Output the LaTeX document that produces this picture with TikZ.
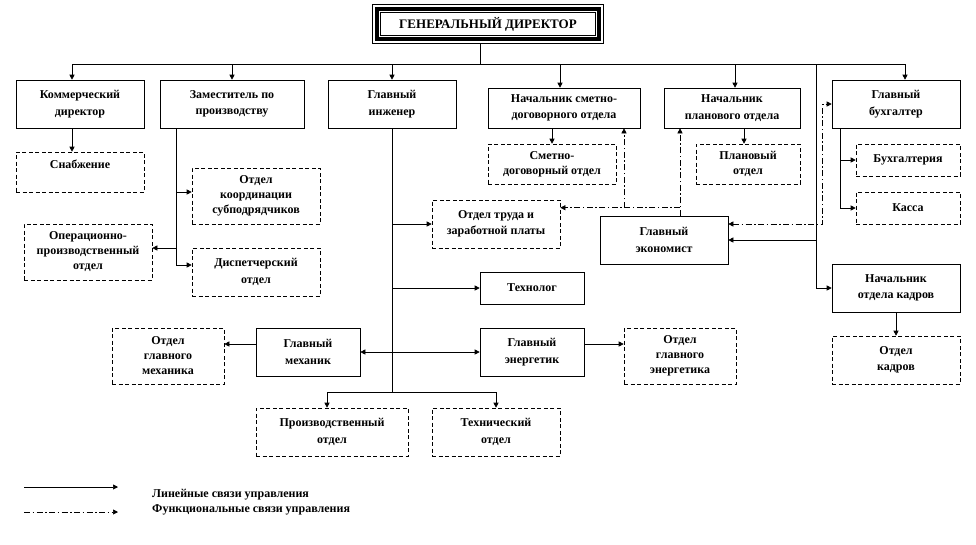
\documentclass[tikz,border=0pt]{standalone}
\usepackage{fontspec}
\setmainfont{Liberation Serif}
\usetikzlibrary{arrows.meta}
\begin{document}
\begin{tikzpicture}[x=1pt,y=-1pt,
  every node/.style={font=\fontsize{12}{16.5}\selectfont\bfseries, align=center, inner sep=0pt},
  three/.style={font=\fontsize{12}{15}\selectfont\bfseries},
  mgr/.style n args={2}{draw, line width=0.6pt, minimum width=#1pt, minimum height=#2pt},
  dept/.style n args={2}{draw, line width=0.6pt, dash pattern=on 4pt off 2.5pt, minimum width=#1pt, minimum height=#2pt},
  ln/.style={line width=0.6pt},
  lin/.style={line width=0.6pt, -{Triangle[length=5pt,width=5pt]}},
  fun/.style={line width=0.6pt, dash pattern=on 6pt off 2.5pt on 1.5pt off 2.5pt, -{Triangle[length=5pt,width=5pt]}},
  funboth/.style={line width=0.6pt, dash pattern=on 6pt off 2.5pt on 1.5pt off 2.5pt, {Triangle[length=5pt,width=5pt]}-{Triangle[length=5pt,width=5pt]}},
  linboth/.style={line width=0.6pt, {Triangle[length=5pt,width=5pt]}-{Triangle[length=5pt,width=5pt]}},
  leg/.style={font=\fontsize{12}{14}\selectfont\bfseries, anchor=base west}
]
\useasboundingbox (0,0) rectangle (976,544);

% general director with double frame
\node[minimum width=230pt, minimum height=38pt, font=\fontsize{13}{15}\selectfont\bfseries] (gd) at (488,24) {ГЕНЕРАЛЬНЫЙ ДИРЕКТОР};
\draw[line width=0.8pt] (gd.north west) rectangle (gd.south east);
\draw[line width=3.5pt] ([xshift=4pt,yshift=-4pt]gd.north west) rectangle ([xshift=-4pt,yshift=4pt]gd.south east);
\draw[line width=0.8pt] ([xshift=8pt,yshift=-8pt]gd.north west) rectangle ([xshift=-8pt,yshift=8pt]gd.south east);

% first row
\node[mgr={128}{48}] (kd) at (80,104) {Коммерческий\\директор};
\node[mgr={144}{48}] (zam) at (232,104) {Заместитель по\\производству};
\node[mgr={128}{48}] (gi) at (392,104) {Главный\\инженер};
\node[mgr={152}{40}] (nsd) at (564,108) {Начальник сметно-\\договорного отдела};
\node[mgr={136}{40}] (npo) at (732,108) {Начальник\\планового отдела};
\node[mgr={128}{48}] (gb) at (896,104) {Главный\\бухгалтер};

% departments and subordinates
\node[dept={128}{40}, text depth=15pt] (snab) at (80,172) {Снабжение};
\node[dept={128}{56}, three] (koord) at (256,196) {Отдел\\координации\\субподрядчиков};
\node[dept={128}{56}, three] (oper) at (88,252) {Операционно-\\производственный\\отдел};
\node[dept={128}{48}] (disp) at (256,272) {Диспетчерский\\отдел};
\node[dept={128}{40}, font=\fontsize{12}{15}\selectfont\bfseries] (smd) at (552,164) {Сметно-\\договорный отдел};
\node[dept={104}{40}, font=\fontsize{12}{15}\selectfont\bfseries] (pl) at (748,164) {Плановый\\отдел};
\node[dept={104}{32}] (buh) at (908,160) {Бухгалтерия};
\node[dept={104}{32}] (kassa) at (908,208) {Касса};
\node[dept={128}{48}] (otp) at (496,224) {Отдел труда и\\заработной платы};
\node[mgr={128}{48}] (ge) at (664,240) {Главный\\экономист};
\node[mgr={104}{32}] (tech) at (532,288) {Технолог};
\node[mgr={128}{48}] (nok) at (896,288) {Начальник\\отдела кадров};
\node[dept={128}{48}] (ok) at (896,360) {Отдел\\кадров};
\node[mgr={104}{48}] (gm) at (308,352) {Главный\\механик};
\node[dept={112}{56}, three] (ogm) at (168,356) {Отдел\\главного\\механика};
\node[mgr={104}{48}] (gen) at (532,352) {Главный\\энергетик};
\node[dept={112}{56}, three] (oge) at (680,356) {Отдел\\главного\\энергетика};
\node[dept={152}{48}] (prod) at (332,432) {Производственный\\отдел};
\node[dept={128}{48}] (techo) at (496,432) {Технический\\отдел};

% bus from general director
\coordinate (bus) at (0,64);
\draw[ln] ([xshift=-8pt]gd.south) -- ([xshift=-8pt]gd.south |- bus);
\draw[ln] ([xshift=-8pt]kd.north |- bus) -- ([xshift=9pt]gb.north |- bus);
\foreach \n/\s in {kd/-8, zam/0, gi/0, nsd/-4, npo/3, gb/9}
  \draw[lin] ([xshift=\s pt]\n.north |- bus) -- ([xshift=\s pt]\n.north);

% commercial director
\draw[lin] ([xshift=-8pt]kd.south) -- ([xshift=-8pt]snab.north);

% deputy for production
\coordinate (zv) at ([xshift=-56pt]zam.south);
\draw[lin] (zv) |- ([yshift=4pt]koord.west);
\draw[lin] (zv) |- ([yshift=7pt]disp.west);
\draw[lin] (zv |- oper.east) ++(0,-4) -- ([yshift=4pt]oper.east);

% chief engineer
\coordinate (gv) at (gi.south |- 0,392);
\draw[ln] (gi.south) -- (gv);
\draw[ln] ([xshift=-5pt]prod.north |- gv) -- (techo.north |- gv);
\draw[lin] ([xshift=-5pt]prod.north |- gv) -- ([xshift=-5pt]prod.north);
\draw[lin] (techo.north |- gv) -- (techo.north);
\draw[lin] (gi.south |- otp.west) -- (otp.west);
\draw[lin] (gi.south |- tech.west) -- (tech.west);
\draw[linboth] (gm.east) -- (gen.west);
\draw[lin] ([yshift=8pt]gm.west) -- ([yshift=8pt]gm.west -| ogm.east);
\draw[lin] ([yshift=8pt]gen.east) -- ([yshift=8pt]gen.east -| oge.west);

% estimate and planning
\draw[lin] ([xshift=-12pt]nsd.south) -- (smd.north);
\draw[lin] ([xshift=12pt]npo.south) -- ([xshift=-4pt]pl.north);

% chief accountant
\coordinate (bv) at ([xshift=-56pt]gb.south);
\draw[lin] (bv) |- (buh.west);
\draw[lin] (bv) |- (kassa.west);

% right main line
\coordinate (rv) at ([xshift=-80pt]gb.north |- bus);
\draw[lin] (rv) |- (nok.west);
\draw[lin] (rv |- ge.east) -- (ge.east);
\draw[lin] (nok.south) -- (ok.north);

% functional links of the chief economist
\coordinate (ft) at ([xshift=16pt]ge.north);
\coordinate (fh) at ([xshift=16pt,yshift=8pt]ge.north);
\draw[fun] (ft) -- (ft |- npo.south);
\draw[fun] (fh) -- (fh -| otp.east);
\draw[fun] ([xshift=60pt]nsd.south |- fh) -- ([xshift=60pt]nsd.south);
\coordinate (fc) at ([xshift=-9pt,yshift=16pt]gb.west |- ge.east);
\draw[funboth] ([yshift=16pt]ge.east) -- (fc) |- (gb.west);

% legend
\coordinate (l1a) at (24,487);
\coordinate (l1b) at (118,487);
\coordinate (l2a) at (24,512);
\coordinate (l2b) at (118,512);
\draw[lin] (l1a) -- (l1b);
\draw[fun] (l2a) -- (l2b);
\node[leg] (t1) at (152,497) {Линейные связи управления};
\node[leg] (t2) at (152,512) {Функциональные связи управления};
\end{tikzpicture}
\end{document}
